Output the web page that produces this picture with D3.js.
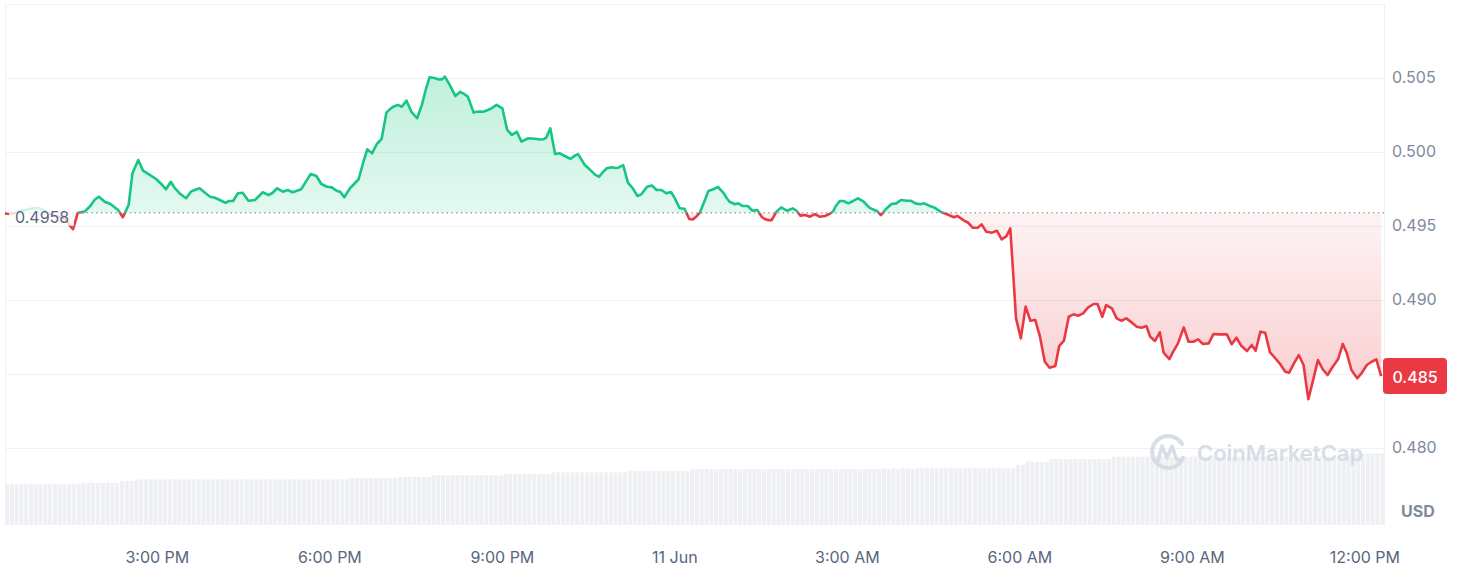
<!DOCTYPE html>
<html><head><meta charset="utf-8">
<script src="https://cdn.jsdelivr.net/npm/d3@7"></script>
<style>body{margin:0;background:#fff;}svg{display:block;font-family:Inter,"Noto Sans",sans-serif;}</style>
</head><body><svg id="c" width="1458" height="580"></svg>
<script>
// ---- data ----
const startTime = new Date(2024, 5, 10, 12, 21);
const spanMinutes = 1440;
const minutes = [0,5,10,16,21,26,31,37,42,47,52,57,63,68,71,76,83,89,94,98,104,110,114,118,123,129,133,139,144,151,158,163,168,173,177,183,189,194,198,203,209,214,219,224,230,234,238,243,248,254,261,264,269,275,279,284,290,295,300,304,309,313,319,325,330,336,341,346,350,354,360,369,374,378,383,388,393,398,402,405,410,414,419,424,430,435,439,443,448,452,456,459,464,470,475,479,483,489,492,496,499,504,508,513,519,524,529,534,539,546,550,555,558,562,565,569,574,579,584,590,594,598,605,610,616,620,624,628,633,637,640,645,650,655,660,664,670,675,680,685,690,695,699,704,709,714,718,722,725,729,734,739,744,750,753,756,762,765,770,775,780,785,790,793,796,800,805,810,816,822,826,830,835,840,845,850,856,860,864,867,871,875,880,885,890,896,902,906,910,914,919,925,930,935,941,945,950,955,959,965,970,976,983,990,994,1000,1005,1010,1015,1019,1024,1030,1035,1040,1045,1049,1055,1060,1065,1070,1075,1080,1085,1090,1096,1100,1105,1110,1115,1120,1125,1130,1136,1140,1145,1149,1155,1160,1165,1170,1176,1181,1186,1191,1195,1200,1205,1209,1215,1219,1224,1230,1235,1240,1245,1250,1256,1261,1266,1270,1275,1280,1285,1290,1296,1301,1305,1310,1315,1320,1325,1330,1336,1340,1345,1350,1355,1360,1365,1370,1375,1380,1386,1391,1396,1400,1405,1411,1416,1421,1426,1431,1436];
const prices = [0.49585,0.49581,0.49588,0.49601,0.49608,0.49615,0.49622,0.49618,0.49601,0.49581,0.49568,0.49561,0.49547,0.49500,0.49478,0.49590,0.49597,0.49635,0.49680,0.49698,0.49664,0.49649,0.49628,0.49608,0.49559,0.49642,0.49856,0.49946,0.49874,0.49845,0.49816,0.49784,0.49748,0.49799,0.49757,0.49716,0.49687,0.49732,0.49743,0.49755,0.49723,0.49698,0.49691,0.49676,0.49657,0.49669,0.49669,0.49721,0.49725,0.49671,0.49676,0.49696,0.49728,0.49709,0.49723,0.49755,0.49732,0.49743,0.49728,0.49736,0.49748,0.49790,0.49851,0.49838,0.49784,0.49765,0.49761,0.49738,0.49730,0.49694,0.49755,0.49816,0.49934,0.50018,0.49991,0.50054,0.50088,0.50266,0.50291,0.50306,0.50318,0.50306,0.50347,0.50272,0.50228,0.50318,0.50419,0.50505,0.50500,0.50491,0.50491,0.50509,0.50453,0.50378,0.50407,0.50392,0.50374,0.50266,0.50272,0.50273,0.50272,0.50284,0.50297,0.50318,0.50295,0.50149,0.50115,0.50137,0.50070,0.50093,0.50091,0.50088,0.50084,0.50086,0.50099,0.50160,0.49986,0.49991,0.49973,0.49953,0.49973,0.49986,0.49912,0.49883,0.49845,0.49833,0.49865,0.49890,0.49897,0.49892,0.49894,0.49912,0.49793,0.49755,0.49703,0.49714,0.49765,0.49774,0.49743,0.49743,0.49721,0.49730,0.49687,0.49620,0.49617,0.49547,0.49545,0.49568,0.49590,0.49653,0.49736,0.49748,0.49765,0.49721,0.49689,0.49664,0.49647,0.49653,0.49635,0.49635,0.49603,0.49608,0.49559,0.49547,0.49540,0.49540,0.49597,0.49626,0.49603,0.49619,0.49603,0.49570,0.49574,0.49563,0.49581,0.49563,0.49568,0.49581,0.49597,0.49635,0.49669,0.49669,0.49653,0.49669,0.49687,0.49664,0.49624,0.49611,0.49601,0.49574,0.49613,0.49649,0.49653,0.49676,0.49671,0.49671,0.49653,0.49647,0.49653,0.49635,0.49624,0.49597,0.49579,0.49559,0.49568,0.49540,0.49522,0.49488,0.49488,0.49511,0.49461,0.49455,0.49468,0.49410,0.49432,0.49484,0.48876,0.48741,0.48955,0.48860,0.48865,0.48752,0.48583,0.48542,0.48554,0.48689,0.48725,0.48887,0.48903,0.48894,0.48910,0.48948,0.48973,0.48973,0.48887,0.48966,0.48944,0.48876,0.48860,0.48876,0.48847,0.48819,0.48813,0.48824,0.48752,0.48723,0.48782,0.48644,0.48601,0.48651,0.48707,0.48815,0.48718,0.48718,0.48734,0.48703,0.48707,0.48770,0.48768,0.48768,0.48768,0.48701,0.48745,0.48691,0.48655,0.48696,0.48657,0.48786,0.48779,0.48646,0.48610,0.48572,0.48515,0.48509,0.48572,0.48628,0.48561,0.48329,0.48459,0.48594,0.48532,0.48493,0.48554,0.48599,0.48703,0.48644,0.48527,0.48471,0.48509,0.48561,0.48583,0.48599,0.48486];
// 5-minute volume bars (USD millions, rolling)
const volumes = [
291,291,291,291,291,291,291,291,291,291,291,291,
291,291,291,291,302,302,302,302,302,302,302,302,
314,314,314,326,326,326,326,326,326,326,326,326,
326,326,326,326,326,326,326,326,326,326,326,326,
326,326,326,326,326,326,326,326,326,326,326,326,
326,326,326,326,326,326,326,326,326,326,326,326,
336,336,336,336,336,336,336,336,336,336,343,343,
343,343,343,343,343,355,355,355,355,355,355,355,
355,355,355,355,355,355,355,355,364,364,364,364,
364,364,364,364,364,364,376,376,376,376,376,376,
376,376,376,376,376,376,376,376,376,376,386,386,
386,386,386,386,386,386,386,386,386,386,386,398,
398,398,398,398,398,398,398,398,398,398,398,398,
398,398,398,398,398,398,398,398,398,398,398,398,
398,398,398,398,398,398,398,398,398,398,398,398,
398,398,398,405,398,405,398,405,405,398,405,405,
405,405,405,405,405,405,405,405,405,405,405,405,
405,405,405,405,405,405,405,429,429,452,452,452,
452,452,471,471,471,471,471,471,471,471,471,471,
471,471,471,488,488,488,488,488,488,488,488,488,
488,488,488,488,488,488,488,488,488,488,488,488,
488,488,488,488,488,488,488,488,488,488,488,488,
488,488,488,488,488,488,488,488,488,488,488,488,
488,488,488,500,505,512,512,512,512,512,512,512];
const openPrice = 0.4959;
const openLabel = "0.4958";
const lastLabel = "0.485";
const yTicks = [0.480, 0.485, 0.490, 0.495, 0.500, 0.505, 0.510];
// 0.485 label is hidden behind the last-price tag in the reference
const yTickLabels = ["0.480", "", "0.490", "0.495", "0.500", "0.505", ""];
const currencyLabel = "USD";

// ---- scales ----
const W = 1458, H = 580;
const left = 5, right = 1385;
const endTime = new Date(+startTime + spanMinutes * 60000);
const x = d3.scaleTime().domain([startTime, endTime]).range([left, right]);
const y = d3.scaleLinear().domain([0.480, 0.510]).range([448, 4]);
const yVol = d3.scaleLinear().domain([0, 600]).range([525, 441]);

const n = Math.min(minutes.length, prices.length);
const data = d3.range(n).map(i => ({t: new Date(+startTime + minutes[i] * 60000), p: prices[i]}));

const svg = d3.select("#c");
const defs = svg.append("defs");
const yBase = y(openPrice);

defs.append("clipPath").attr("id", "above").append("rect")
  .attr("x", 0).attr("y", 0).attr("width", W).attr("height", yBase);
defs.append("clipPath").attr("id", "below").append("rect")
  .attr("x", 0).attr("y", yBase).attr("width", W).attr("height", H - yBase);

const gG = defs.append("linearGradient").attr("id", "gGreen").attr("gradientUnits", "userSpaceOnUse")
  .attr("x1", 0).attr("x2", 0).attr("y1", y(0.505)).attr("y2", yBase);
gG.append("stop").attr("offset", 0).attr("stop-color", "#16c784").attr("stop-opacity", 0.27);
gG.append("stop").attr("offset", 1).attr("stop-color", "#16c784").attr("stop-opacity", 0.12);
const gR = defs.append("linearGradient").attr("id", "gRed").attr("gradientUnits", "userSpaceOnUse")
  .attr("x1", 0).attr("x2", 0).attr("y1", yBase).attr("y2", y(0.4835));
gR.append("stop").attr("offset", 0).attr("stop-color", "#ea3943").attr("stop-opacity", 0.06);
gR.append("stop").attr("offset", 1).attr("stop-color", "#ea3943").attr("stop-opacity", 0.25);

// ---- volume bars ----
const step = x(new Date(+startTime + 5 * 60000)) - x(startTime);
svg.append("g").selectAll("rect").data(volumes).join("rect")
  .attr("x", (d, i) => x(new Date(+startTime + i * 5 * 60000)))
  .attr("y", d => yVol(d))
  .attr("width", step - 0.8)
  .attr("height", d => yVol(0) - yVol(d))
  .attr("fill", "#eef0f4");

// ---- grid & frame ----
svg.append("g").selectAll("line").data(yTicks).join("line")
  .attr("x1", left).attr("x2", right - 1)
  .attr("y1", d => Math.round(y(d)) + 0.5).attr("y2", d => Math.round(y(d)) + 0.5)
  .attr("stroke", "#eff1f4").attr("stroke-width", 1);
svg.append("line").attr("x1", left + 0.5).attr("x2", left + 0.5).attr("y1", y(0.510)).attr("y2", 526)
  .attr("stroke", "#eff1f4");
svg.append("line").attr("x1", right - 0.5).attr("x2", right - 0.5).attr("y1", y(0.510)).attr("y2", 526)
  .attr("stroke", "#eff1f4");

// ---- watermark ----
const wm = svg.append("g").attr("opacity", 0.9);
const cx = 1168, cy = 452;
wm.append("path")
  .attr("d", `M ${cx + 15} ${cy + 6} A 16 16 0 1 1 ${cx + 14} ${cy - 8}`)
  .attr("fill", "none").attr("stroke", "#d4dae4").attr("stroke-width", 4).attr("stroke-linecap", "round");
wm.append("path")
  .attr("d", `M ${cx - 10} ${cy + 9} L ${cx - 6} ${cy - 6} L ${cx - 1} ${cy + 6} L ${cx + 4} ${cy - 6} L ${cx + 8} ${cy + 6} Q ${cx + 11} ${cy + 11} ${cx + 15} ${cy + 6}`)
  .attr("fill", "none").attr("stroke", "#d4dae4").attr("stroke-width", 3.5).attr("stroke-linejoin", "round").attr("stroke-linecap", "round");
wm.append("text").attr("x", 1197).attr("y", 461).text("CoinMarketCap")
  .attr("font-size", 22).attr("font-weight", 600).attr("fill", "#d4dae4");

// ---- areas & lines ----
const area = d3.area().x(d => x(d.t)).y0(yBase).y1(d => y(d.p));
const line = d3.line().x(d => x(d.t)).y(d => y(d.p));
svg.append("path").datum(data).attr("d", area).attr("fill", "url(#gGreen)").attr("clip-path", "url(#above)");
svg.append("path").datum(data).attr("d", area).attr("fill", "url(#gRed)").attr("clip-path", "url(#below)");

svg.append("line").attr("x1", left).attr("x2", right - 1).attr("y1", yBase).attr("y2", yBase)
  .attr("stroke", "#9aa3b2").attr("stroke-width", 1.4).attr("stroke-dasharray", "1.4 3.4");

svg.append("path").datum(data).attr("d", line).attr("fill", "none").attr("stroke", "#16c784")
  .attr("stroke-width", 2.6).attr("stroke-linejoin", "round").attr("clip-path", "url(#above)");
svg.append("path").datum(data).attr("d", line).attr("fill", "none").attr("stroke", "#ea3943")
  .attr("stroke-width", 2.6).attr("stroke-linejoin", "round").attr("clip-path", "url(#below)");

// ---- open price label ----
svg.append("rect").attr("x", 9).attr("y", yBase - 11).attr("width", 65).attr("height", 24)
  .attr("fill", "#ffffff").attr("opacity", 0.78);
svg.append("text").attr("x", 15).attr("y", yBase + 4).attr("dominant-baseline", "central")
  .attr("font-size", 16).attr("fill", "#58667e").text(openLabel);

// ---- y axis labels ----
svg.append("g").selectAll("text").data(yTicks.map((v, i) => ({v, l: yTickLabels[i]})).filter(d => d.l)).join("text")
  .attr("x", 1392).attr("y", d => y(d.v) - 1).attr("dominant-baseline", "central")
  .attr("font-size", 16).attr("fill", "#808a9d").text(d => d.l);
svg.append("text").attr("x", 1401).attr("y", 511).attr("dominant-baseline", "central")
  .attr("font-size", 16).attr("font-weight", 700).attr("fill", "#808a9d").text(currencyLabel);

// ---- last price tag ----
const last = data[data.length - 1];
const yl = y(last.p);
svg.append("rect").attr("x", 1383).attr("y", yl - 18).attr("width", 64).attr("height", 36).attr("rx", 4)
  .attr("fill", "#ea3943");
svg.append("text").attr("x", 1415).attr("y", yl + 1).attr("text-anchor", "middle").attr("dominant-baseline", "central")
  .attr("font-size", 16).attr("font-weight", 500).attr("fill", "#ffffff").text(lastLabel);

// ---- x axis ----
const fmt = d => d.getHours() === 0 ? d3.timeFormat("%-d %b")(d) : d3.timeFormat("%-I:%M %p")(d);
const xTicks = x.ticks(d3.timeHour.every(3));
svg.append("g").selectAll("text").data(xTicks).join("text")
  .attr("x", d => x(d)).attr("y", 557).attr("text-anchor", "middle").attr("dominant-baseline", "central")
  .attr("font-size", 16).attr("fill", "#58667e").text(fmt);
</script></body></html>
